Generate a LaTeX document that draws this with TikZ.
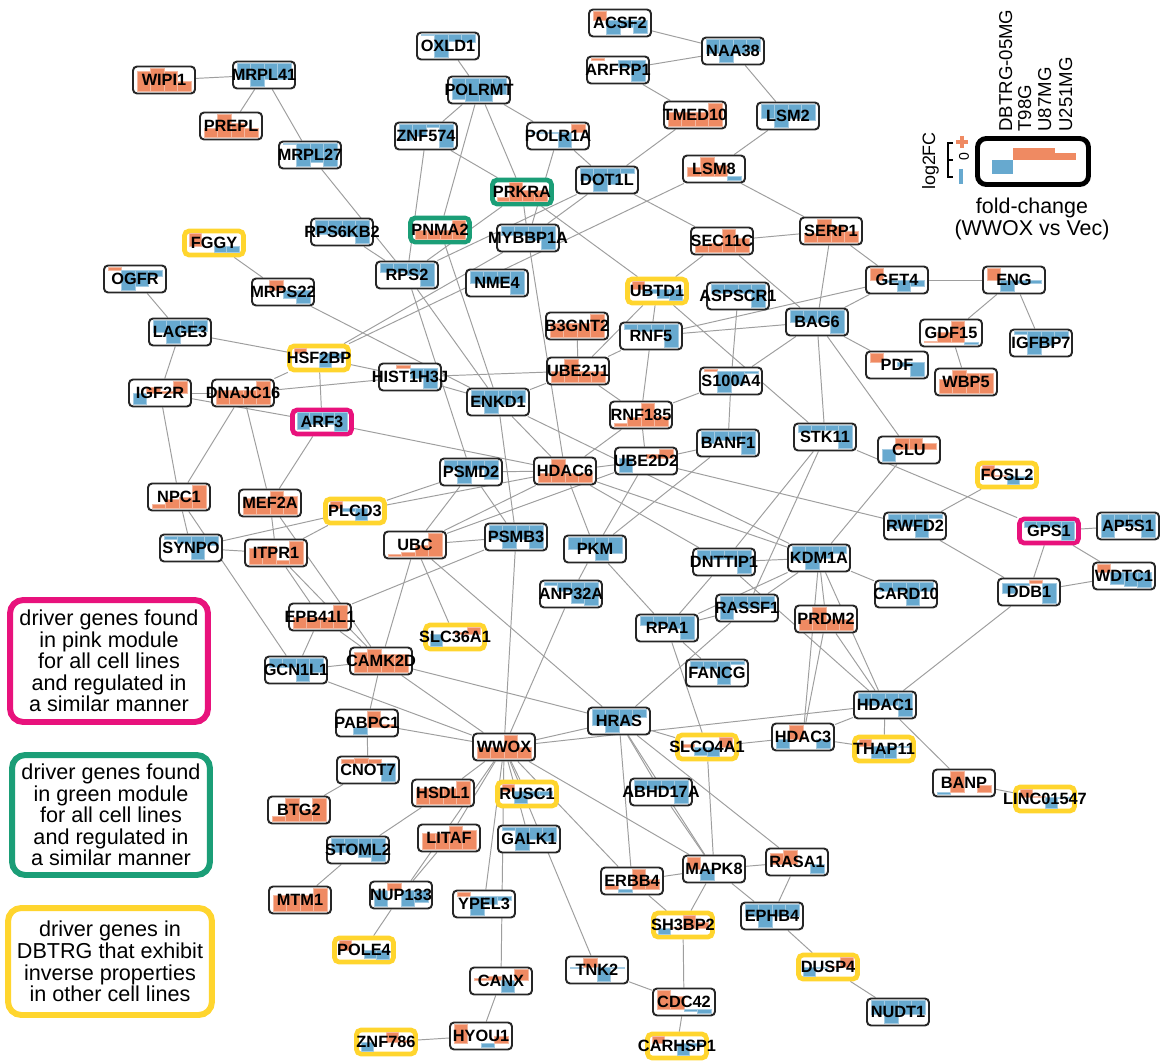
\documentclass[tikz,border=0pt]{standalone}
\usepackage{fontspec}
\setmainfont{Liberation Sans}
\definecolor{posc}{HTML}{EF8A62}
\definecolor{negc}{HTML}{67A9CF}
\definecolor{pinkc}{HTML}{E8127C}
\definecolor{greenc}{HTML}{1B9E77}
\definecolor{yellowc}{HTML}{FFD52E}
\definecolor{edgec}{HTML}{9E9E9E}
\definecolor{boxc}{HTML}{262626}
\pgfdeclarelayer{bglayer}
\pgfdeclarelayer{edgelayer}
\pgfsetlayers{bglayer,edgelayer,main}
\tikzset{
 plainbox/.style={draw=boxc, line width=1.1pt, fill=white, rounded corners=2.3pt, minimum width=1.24cm, minimum height=0.54cm, inner sep=0pt},
 hlbox/.style={line width=2.7pt, fill=white, rounded corners=2.6pt, minimum width=1.18cm, minimum height=0.48cm, inner sep=0pt},
 genelabel/.style={font=\fontsize{9.3}{10}\selectfont\bfseries, inner sep=0pt, text=black},
 edge/.style={draw=edgec, line width=0.55pt},
 posbar/.style={fill=posc, draw=posc!60!white, line width=0.25pt},
 negbar/.style={fill=negc, draw=negc!60!white, line width=0.25pt},
 legbox/.style={line width=3.4pt, fill=white, rounded corners=7.5pt, inner sep=0pt, align=center, font=\fontsize{12.3}{12.3}\selectfont},
 axlabel/.style={rotate=90, inner sep=0pt, font=\fontsize{10.6}{12}\selectfont},
}
\def\splitvals#1,#2,#3,#4\relax{\def\va{#1}\def\vb{#2}\def\vc{#3}\def\vd{#4}}
% #1 style, #2 half height, #3 half width, #4 name, #5 x, #6 y, #7 label, #8 values
\newcommand\genebase[8]{%
  \node[#1] (#4) at (#5,#6) {};
  \splitvals#8\relax
  \pgfmathsetmacro\glo{min(0,\va,\vb,\vc,\vd)}%
  \pgfmathsetmacro\ghi{max(0,\va,\vb,\vc,\vd)}%
  \pgfmathsetmacro\grng{max(\ghi-(\glo),0.001)}%
  \pgfmathsetmacro\gyz{#6+#2-2*#2*(0-(\glo))/\grng}%
  \foreach \gv [count=\gi] in {\va,\vb,\vc,\vd}{%
    \pgfmathsetmacro\gyv{#6+#2-2*#2*(\gv-(\glo))/\grng}%
    \pgfmathsetmacro\gxa{#5-#3+(\gi-1)*#3/2}%
    \pgfmathsetmacro\gxb{\gxa+#3/2}%
    \ifdim\gv pt>0pt \path[posbar] (\gxa,\gyz) rectangle (\gxb,\gyv);\else\ifdim\gv pt<0pt \path[negbar] (\gxa,\gyz) rectangle (\gxb,\gyv);\fi\fi
  }%
  \node[genelabel] (#4-t) at (#5,#6) {#7};
}
\newcommand\gnode[5]{\genebase{plainbox}{11.5}{27}{#1}{#2}{#3}{#4}{#5}}
\newcommand\hgnode[6]{\genebase{hlbox,draw=#1}{9.5}{25}{#2}{#3}{#4}{#5}{#6}}

\begin{document}
\begin{tikzpicture}[x=0.02cm,y=-0.02cm]
\begin{pgfonlayer}{bglayer}
\fill[white] (0,0) rectangle (1161,1061);
\end{pgfonlayer}
\useasboundingbox (0,0) rectangle (1161,1061);

% ---------------- genes ----------------
\gnode{WIPI1}{164}{80}{WIPI1}{0.9,1,0.9,0.45}
\gnode{MRPL41}{264}{75}{MRPL41}{-0.7,-1,-0.7,-0.7}
\gnode{PREPL}{231}{126}{PREPL}{0.4,1,0.6,0.4}
\gnode{MRPL27}{310}{155}{MRPL27}{-0.05,-1,-0.8,-1}
\gnode{RPS6KB2}{342}{232}{RPS6KB2}{-0.6,-0.6,-0.7,-1}
\hgnode{yellowc}{FGGY}{214}{243}{FGGY}{1,0,-0.45,-0.5}
\gnode{OGFR}{135}{279}{OGFR}{0.15,-1,-0.8,-0.3}
\gnode{MRPS22}{283}{292}{MRPS22}{0,0.7,-0.5,-0.9}
\gnode{LAGE3}{180}{332}{LAGE3}{-0.5,-1,-0.5,-0.45}
\gnode{OXLD1}{448}{46}{OXLD1}{-0.05,-1,-0.3,-0.35}
\gnode{POLRMT}{479}{90}{POLRMT}{-0.9,-1,-1,-0.7}
\gnode{ZNF574}{426}{136}{ZNF574}{-0.7,-0.5,-0.1,-1}
\gnode{POLR1A}{558}{136}{POLR1A}{-0.05,-0.05,-1,0.5}
\hgnode{greenc}{PRKRA}{522}{192}{PRKRA}{0.2,1,0.6,0.6}
\gnode{DOT1L}{607}{180}{DOT1L}{-0.5,-1,-0.7,-0.2}
\hgnode{greenc}{PNMA2}{440}{230}{PNMA2}{0.5,0.5,0.5,1}
\gnode{MYBBP1A}{528}{238}{MYBBP1A}{-0.4,-0.4,-0.6,-1}
\gnode{RPS2}{407}{275}{RPS2}{-0.4,-0.4,-0.5,-1}
\gnode{NME4}{497}{283}{NME4}{-0.5,-0.5,-0.5,-1}
\hgnode{yellowc}{UBTD1}{657}{291}{UBTD1}{0.4,-0.2,-0.5,-0.6}
\gnode{B3GNT2}{577}{326}{B3GNT2}{0.6,0.6,0.6,1}
\gnode{RNF5}{651}{336}{RNF5}{-0.2,-0.3,-0.3,-1}
\gnode{ACSF2}{620}{23}{ACSF2}{0.6,-0.9,-0.4,-0.8}
\gnode{ARFRP1}{618}{70}{ARFRP1}{0.1,0,-0.3,-1}
\gnode{NAA38}{733}{51}{NAA38}{-0.6,-1,-0.6,-0.5}
\gnode{TMED10}{695}{115}{TMED10}{0.6,0.6,0.6,1}
\gnode{LSM2}{788}{116}{LSM2}{-0.6,-1,-0.6,-0.7}
\gnode{LSM8}{714}{169}{LSM8}{0.5,1,0.6,-0.2}
\gnode{SEC11C}{722}{241}{SEC11C}{0.3,0.4,1,0.6}
\gnode{SERP1}{831}{231}{SERP1}{0.4,1,0.7,0.5}
\gnode{GET4}{897}{280}{GET4}{1,-0.1,-0.9,-0.5}
\gnode{ASPSCR1}{738}{296}{ASPSCR1}{-0.4,-0.4,-0.4,-1}
\gnode{BAG6}{817}{322}{BAG6}{-0.5,-0.5,-0.5,-1}
\gnode{ENG}{1014}{280}{ENG}{1,-1,-0.3,-0.3}
\gnode{GDF15}{951}{333}{GDF15}{0.05,0.5,1,-0.1}
\gnode{IGFBP7}{1041}{343}{IGFBP7}{-0.1,-1,-0.6,-0.3}
\hgnode{yellowc}{HSF2BP}{319}{358}{HSF2BP}{0.3,0,-0.9,-0.3}
\gnode{IGF2R}{160}{393}{IGF2R}{-0.8,0.5,0.2,0.9}
\gnode{DNAJC16}{243}{393}{DNAJC16}{0.6,0.6,0.6,1}
\hgnode{pinkc}{ARF3}{322}{422}{ARF3}{-0.9,-0.6,-0.6,-1}
\gnode{NPC1}{179}{497}{NPC1}{0.2,0.4,0.5,1}
\gnode{MEF2A}{270}{503}{MEF2A}{0.7,0.7,1,0.8}
\hgnode{yellowc}{PLCD3}{355}{511}{PLCD3}{0.6,-0.2,-1,0}
\gnode{SYNPO}{191}{548}{SYNPO}{-0.1,-0.3,-1,-0.4}
\gnode{ITPR1}{276}{553}{ITPR1}{0.7,0.8,0.2,1}
\gnode{EPB41L1}{320}{617}{EPB41L1}{0.5,0.5,0.5,1}
\gnode{GCN1L1}{296}{670}{GCN1L1}{-0.4,-0.4,-1,-0.6}
\gnode{CAMK2D}{381}{661}{CAMK2D}{0.9,1,0.8,0.8}
\gnode{HIST1H3J}{410}{377}{HIST1H3J}{0,0.15,-0.5,-1}
\gnode{ENKD1}{498}{402}{ENKD1}{-0.6,-1,-0.6,-0.5}
\gnode{UBE2J1}{578}{371}{UBE2J1}{0.5,1,0.5,0.5}
\gnode{RNF185}{641}{415}{RNF185}{0.15,0.4,1,0.45}
\gnode{UBE2D2}{646}{461}{UBE2D2}{-1,0,0.3,0.6}
\gnode{PSMD2}{471}{472}{PSMD2}{-0.4,-1,-0.4,-0.8}
\gnode{HDAC6}{565}{471}{HDAC6}{0.4,1,0.4,0.4}
\gnode{UBC}{415}{545}{UBC}{0.1,0.2,0.5,1}
\gnode{PSMB3}{516}{537}{PSMB3}{-0.6,-1,-0.6,-1}
\gnode{PKM}{595}{549}{PKM}{-0.5,-0.5,-1,-0.7}
\gnode{ANP32A}{571}{594}{ANP32A}{-0.1,-0.4,-0.9,-1}
\hgnode{yellowc}{SLC36A1}{455}{637}{SLC36A1}{-1,0,0.2,0.6}
\gnode{S100A4}{731}{381}{S100A4}{0.1,-1,-0.6,-0.1}
\gnode{BANF1}{728}{443}{BANF1}{-0.5,-0.4,-0.4,-1}
\gnode{STK11}{825}{437}{STK11}{-0.3,-0.2,-0.2,-1}
\gnode{CLU}{909}{450}{CLU}{-1.2,1,1,0.55}
\gnode{PDF}{897}{365}{PDF}{0.6,0,-0.3,-1}
\gnode{WBP5}{966}{382}{WBP5}{0.6,1,0.9,0.9}
\gnode{RWFD2}{915}{526}{RWFD2}{-0.6,-0.5,-1,-0.15}
\gnode{DNTTIP1}{724}{562}{DNTTIP1}{-0.4,-0.4,-0.4,-1}
\gnode{KDM1A}{819}{558}{KDM1A}{-0.6,-1,-0.5,-0.3}
\gnode{CARD10}{906}{594}{CARD10}{-0.4,-0.4,-1,-0.4}
\gnode{RASSF1}{747}{608}{RASSF1}{-1,-0.5,-0.5,-0.5}
\gnode{PRDM2}{826}{619}{PRDM2}{0.5,1,0.5,0.5}
\gnode{RPA1}{667}{628}{RPA1}{-0.4,-0.4,-0.5,-1}
\gnode{FANCG}{717}{673}{FANCG}{-0.3,-0.3,-1,-0.1}
\hgnode{yellowc}{FOSL2}{1007}{475}{FOSL2}{1,0.1,-0.8,-0.3}
\hgnode{pinkc}{GPS1}{1049}{531}{GPS1}{-0.3,-0.3,-0.3,-1}
\gnode{AP5S1}{1128}{526}{AP5S1}{-1,-0.5,-0.5,-1}
\gnode{WDTC1}{1124}{576}{WDTC1}{0.5,-0.7,-0.8,-0.9}
\gnode{DDB1}{1029}{592}{DDB1}{-0.5,-0.1,0.15,-1}
\gnode{PABPC1}{367}{723}{PABPC1}{0,-0.5,1,0.2}
\gnode{CNOT7}{368}{770}{CNOT7}{0.2,0.25,0.2,-1}
\gnode{BTG2}{299}{810}{BTG2}{0.25,1,0.5,1}
\gnode{HSDL1}{443}{793}{HSDL1}{0.7,0.7,0.7,1}
\gnode{STOML2}{358}{850}{STOML2}{-0.6,-0.6,-0.8,-1}
\gnode{LITAF}{449}{838}{LITAF}{0.7,0.7,1,0.85}
\gnode{MTM1}{300}{900}{MTM1}{0.7,0.7,0.7,1}
\gnode{NUP133}{401}{895}{NUP133}{-0.8,0.3,-0.8,-0.6}
\hgnode{yellowc}{POLE4}{364}{950}{POLE4}{0.8,0,-0.7,-0.8}
\hgnode{yellowc}{ZNF786}{386}{1042}{ZNF786}{-0.7,0,0.8,0.2}
\gnode{HYOU1}{481}{1036}{HYOU1}{1,0,-0.2,0.4}
\gnode{WWOX}{504}{747}{WWOX}{0.5,0.5,1,0.5}
\gnode{CANX}{501}{981}{CANX}{0.1,0.3,-1,0.8}
\gnode{YPEL3}{484}{904}{YPEL3}{0.2,-1,-0.4,-0.2}
\hgnode{yellowc}{RUSC1}{527}{794}{RUSC1}{0.6,-1,-0.4,-0.3}
\gnode{GALK1}{529}{839}{GALK1}{-0.1,-1,-0.5,-0.6}
\gnode{HRAS}{619}{721}{HRAS}{-0.7,-1,-0.7,-0.35}
\hgnode{yellowc}{SLCO4A1}{707}{747}{SLCO4A1}{0.2,-0.5,-0.6,0.6}
\gnode{ABHD17A}{661}{792}{ABHD17A}{-0.4,-0.4,-0.4,-1}
\gnode{ERBB4}{632}{881}{ERBB4}{0.2,-0.15,1,0.5}
\gnode{MAPK8}{714}{869}{MAPK8}{1,-1,0,0}
\hgnode{yellowc}{SH3BP2}{683}{925}{SH3BP2}{-0.5,0.1,1,0.5}
\gnode{TNK2}{597}{970}{TNK2}{-0.1,0.6,-1,-0.1}
\gnode{CDC42}{684}{1002}{CDC42}{1,0.7,-0.1,-0.2}
\hgnode{yellowc}{CARHSP1}{677}{1046}{CARHSP1}{0.6,0,-1,-0.2}
\gnode{HDAC1}{885}{705}{HDAC1}{-0.5,-0.5,-0.5,-1}
\gnode{HDAC3}{803}{737}{HDAC3}{-0.7,1,0,-0.7}
\hgnode{yellowc}{THAP11}{884}{749}{THAP11}{0.5,-1,-1,-0.1}
\gnode{BANP}{964}{783}{BANP}{-0.1,1,0,0.35}
\hgnode{yellowc}{LINC01547}{1045}{799}{LINC01547}{0.6,0.05,-0.9,-0.1}
\gnode{RASA1}{797}{862}{RASA1}{0.8,1,0,-0.7}
\gnode{EPHB4}{772}{916}{EPHB4}{-0.5,-1,-0.5,-0.5}
\hgnode{yellowc}{DUSP4}{828}{967}{DUSP4}{-0.8,-0.1,0.1,0.9}
\gnode{NUDT1}{898}{1012}{NUDT1}{-0.6,-1,-0.6,-0.6}

% ---------------- edges ----------------
\begin{pgfonlayer}{edgelayer}
\foreach \a/\b in {WIPI1/MRPL41, MRPL41/PREPL, MRPL41/MRPL27, MRPL27/RPS2, RPS6KB2/RPS2,
 FGGY/MRPS22, MRPS22/ENKD1, OGFR/LAGE3, LAGE3/HSF2BP, LAGE3/IGF2R,
 OXLD1/POLRMT, POLRMT/ZNF574, POLRMT/POLR1A, POLRMT/PRKRA, POLRMT/PNMA2,
 ZNF574/RPS2, ZNF574/PRKRA, POLR1A/MYBBP1A, POLR1A/DOT1L, PRKRA/MYBBP1A,
 PRKRA/UBTD1, PRKRA/RPS2, DOT1L/MYBBP1A, DOT1L/RPS2, DOT1L/SEC11C, SEC11C/BAG6,
 TMED10/DOT1L, ARFRP1/TMED10, ACSF2/NAA38, ARFRP1/NAA38, NAA38/LSM2, LSM2/LSM8,
 LSM8/SERP1, LSM8/HSF2BP, HSF2BP/MYBBP1A, SEC11C/SERP1, SEC11C/UBTD1,
 SERP1/GET4, SERP1/BAG6, GET4/ENG, GET4/BAG6, GET4/RNF5, RNF5/BAG6,
 BAG6/STK11, BAG6/CLU, BAG6/PDF, BAG6/S100A4, ASPSCR1/S100A4, UBTD1/STK11,
 UBTD1/RNF5, UBTD1/UBE2J1, B3GNT2/UBE2J1, RNF5/UBE2J1, RNF5/RNF185,
 RNF185/UBE2J1, RNF185/HDAC6, RNF185/UBE2D2, UBE2J1/HIST1H3J, UBE2J1/ENKD1,
 MYBBP1A/HDAC6, HIST1H3J/ENKD1, HSF2BP/HIST1H3J, HSF2BP/ARF3, HSF2BP/DNAJC16,
 ENKD1/HDAC6, ENKD1/KDM1A, ENKD1/PSMB3, PNMA2/ENKD1, RPS2/ENKD1, RPS2/PSMD2,
 PSMB3/WWOX, PSMD2/HDAC6, PSMD2/PSMB3, PSMD2/UBC, PSMD2/PLCD3, HDAC6/PLCD3,
 HDAC6/UBC, UBC/UBE2D2, HDAC6/PKM, HDAC6/DNTTIP1, HDAC6/KDM1A, HDAC6/UBE2D2,
 UBE2D2/RWFD2, UBE2D2/PKM, BANF1/PKM, BANF1/S100A4, BANF1/UBE2D2, S100A4/RNF185,
 STK11/GPS1, STK11/DNTTIP1, STK11/RASSF1, CLU/KDM1A, KDM1A/DNTTIP1, KDM1A/RASSF1,
 KDM1A/RPA1, KDM1A/PRDM2, KDM1A/HDAC3, KDM1A/HDAC1, KDM1A/CARD10,
 DNTTIP1/RPA1, DNTTIP1/HDAC1, PRDM2/HDAC1, PRDM2/HDAC3, RASSF1/RPA1, RASSF1/HRAS,
 RPA1/FANCG, RPA1/SLCO4A1, SLCO4A1/MAPK8, PKM/RPA1, PKM/ANP32A, ANP32A/WWOX,
 CAMK2D/HRAS, UBC/HRAS, UBC/CAMK2D, UBC/SLC36A1, UBC/PSMB3, PSMB3/EPB41L1,
 GCN1L1/WWOX, CAMK2D/WWOX, PABPC1/WWOX, CAMK2D/PABPC1, WWOX/HSDL1, HSDL1/STOML2,
 WWOX/LITAF, WWOX/NUP133, LITAF/NUP133, WWOX/YPEL3, WWOX/RUSC1, WWOX/GALK1,
 WWOX/TNK2, WWOX/ERBB4, WWOX/MAPK8, WWOX/CANX, WWOX/HDAC1, WWOX/HRAS,
 HRAS/SLCO4A1, SLCO4A1/HDAC3, HDAC3/HDAC1, HDAC3/THAP11, HDAC1/THAP11,
 HDAC1/BANP, BANP/LINC01547, HDAC1/DDB1, HRAS/ABHD17A, HRAS/ERBB4, HRAS/RASA1,
 HRAS/MAPK8, ABHD17A/MAPK8, MAPK8/ERBB4, MAPK8/RASA1, MAPK8/SH3BP2, SH3BP2/CDC42,
 ERBB4/SH3BP2, MAPK8/EPHB4, RASA1/EPHB4, EPHB4/DUSP4, DUSP4/NUDT1, TNK2/CDC42,
 CDC42/CARHSP1, CANX/HYOU1, HYOU1/ZNF786, NUP133/POLE4, STOML2/MTM1, CNOT7/BTG2,
 PABPC1/CNOT7, IGF2R/DNAJC16, IGF2R/ARF3, DNAJC16/HIST1H3J, IGF2R/NPC1,
 DNAJC16/NPC1, DNAJC16/MEF2A, ARF3/MEF2A, ARF3/HDAC6, NPC1/SYNPO, NPC1/GCN1L1,
 SYNPO/PLCD3, SYNPO/ITPR1, MEF2A/ITPR1, MEF2A/CAMK2D, ITPR1/CAMK2D, ITPR1/EPB41L1,
 EPB41L1/CAMK2D, PLCD3/ITPR1, EPB41L1/GCN1L1, GCN1L1/CAMK2D, ENG/GDF15, ENG/IGFBP7,
 GDF15/WBP5, FOSL2/RWFD2, RWFD2/DDB1, GPS1/DDB1, GPS1/AP5S1, GPS1/WDTC1, DDB1/WDTC1}
 \draw[edge] (\a) -- (\b);
\end{pgfonlayer}

% ---------------- legend boxes (left) ----------------
\node[legbox, draw=pinkc, minimum width=3.96cm, minimum height=2.44cm] (legpink) at (109,661)
 {driver genes found\\in pink module\\for all cell lines\\and regulated in\\a similar manner};
\node[legbox, draw=greenc, minimum width=3.96cm, minimum height=2.40cm] (leggreen) at (111,815)
 {driver genes found\\in green module\\for all cell lines\\and regulated in\\a similar manner};
\node[legbox, draw=yellowc, minimum width=4.08cm, minimum height=2.14cm] (legyellow) at (110,961.5)
 {driver genes in\\DBTRG that exhibit\\inverse properties\\in other cell lines};

% ---------------- fold-change key (top right) ----------------
\node[draw=black, line width=2.8pt, rounded corners=5pt, minimum width=2.22cm, minimum height=0.92cm, inner sep=0pt, fill=white] (fcbox) at (1033,161.5) {};
\fill[negc] (992,160) rectangle (1013,174);
\fill[posc] (1013,148) rectangle (1034,160);
\fill[posc] (1034,148) rectangle (1055,160);
\fill[posc] (1055,153) rectangle (1076,160);
\node[axlabel, anchor=base west] (labA) at (1012,132) {DBTRG-05MG};
\node[axlabel, anchor=base west] (labB) at (1031,132) {T98G};
\node[axlabel, anchor=base west] (labC) at (1051,132) {U87MG};
\node[axlabel, anchor=base west] (labD) at (1072,132) {U251MG};
\node[axlabel, anchor=base, font=\fontsize{10.2}{12}\selectfont] (labFC) at (935,161) {log2FC};
\draw[line width=1.2pt] (953,143) -- (948,143) -- (948,177) -- (953,177) (948,160) -- (953,160);
\node[axlabel, font=\fontsize{8}{9}\selectfont] (labzero) at (964,157) {0};
\draw[posc, line width=1.8pt] (956,142) -- (968,142) (962,136) -- (962,148);
\draw[negc, line width=1.8pt] (961,169) -- (961,184);
\node[font=\fontsize{12.2}{13}\selectfont, inner sep=0pt] (fctitle) at (1032,208) {fold-change};
\node[font=\fontsize{12.2}{13}\selectfont, inner sep=0pt] (fcsub) at (1032,230) {(WWOX vs Vec)};
\end{tikzpicture}
\end{document}
